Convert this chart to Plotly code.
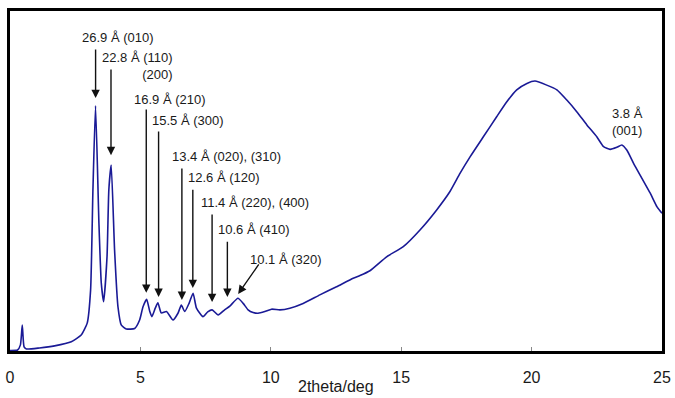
import numpy as np
import plotly.graph_objects as go

# Powder XRD pattern: 2theta (deg) vs intensity (arb. units)
two_theta = [
    0.00, 0.29, 0.40, 0.47, 0.54, 0.63, 1.13, 1.71, 2.35, 2.73,
    2.96, 3.09, 3.18, 3.28, 3.41, 3.50, 3.59, 3.72, 3.79, 3.88,
    4.01, 4.14, 4.27, 4.46, 4.78, 4.97, 5.10, 5.24, 5.36, 5.44,
    5.57, 5.67, 5.80, 6.00, 6.25, 6.44, 6.57, 6.70, 6.87, 7.02,
    7.15, 7.40, 7.58, 7.75, 7.98, 8.23, 8.43, 8.74, 8.94, 9.13,
    9.32, 9.51, 9.77, 10.03, 10.35, 10.73, 11.24, 11.88, 12.52, 13.16,
    13.42, 13.80, 14.44, 15.08, 15.72, 16.36, 16.87, 17.26, 17.64, 18.15,
    18.66, 19.05, 19.43, 19.82, 20.13, 20.58, 20.97, 21.35, 21.73, 22.12,
    22.50, 22.76, 23.01, 23.27, 23.46, 23.65, 23.91, 24.23, 24.55, 24.81,
    25.00,
]
intensity = [
    0.15, 0.3, 1.8, 7.6, 1.2, 0.6, 0.9, 1.5, 2.7, 4.7,
    8.2, 17.9, 47.4, 72.1, 37.6, 20.0, 14.5, 27.7, 47.4, 54.7,
    29.7, 13.0, 7.6, 6.5, 6.6, 9.1, 13.0, 15.2, 11.6, 10.1,
    12.6, 14.2, 11.2, 11.6, 9.1, 11.1, 13.5, 11.6, 14.1, 17.0,
    12.6, 10.1, 11.5, 12.1, 10.6, 12.1, 13.2, 15.5, 14.0, 12.1,
    11.3, 11.1, 11.6, 12.3, 12.1, 12.6, 14.0, 16.5, 18.9, 21.4,
    22.2, 23.6, 27.7, 30.7, 35.6, 41.5, 46.9, 52.3, 57.1, 63.0,
    68.9, 73.3, 76.8, 78.7, 79.4, 78.2, 76.8, 73.8, 70.4, 66.5,
    63.0, 60.1, 59.3, 59.9, 60.6, 59.1, 55.2, 50.8, 46.4, 42.4,
    40.5,
]

# Indexed reflections: d-spacing (Å) and Miller indices
d_spacing = [26.9, 22.8, 16.9, 15.5, 13.4, 12.6, 11.4, 10.6, 10.1]
hkl = ["(010)", "(110)<br>(200)", "(210)", "(300)", "(020), (310)",
       "(120)", "(220), (400)", "(410)", "(320)"]
# arrow tip / tail heights and label centre for each reflection
tip_int = [74.4, 57.6, 17.1, 15.9, 15.0, 18.5, 14.4, 15.9, 16.8]
tail_int = [89.1, 83.2, 71.5, 65.0, 54.1, 47.9, 40.6, 32.6, 25.9]
label_x = [4.13, 6.32, 6.12, 6.81, 8.29, 8.22, 9.41, 9.37, 10.57]
label_y = [92.1, 83.8, 74.1, 67.9, 57.1, 50.9, 43.6, 35.6, 26.8]

# Amorphous-halo reflection
d_001 = 3.8
label_001 = (23.69, 67.5)

WAVELENGTH = 1.5406  # Cu K-alpha, Å


def bragg_two_theta(d):
    return float(np.degrees(2 * np.arcsin(WAVELENGTH / (2 * d))))


FONT = "Liberation Sans, Arial, sans-serif"
TXT = "#1a1a1a"

fig = go.Figure()
fig.add_trace(go.Scatter(
    x=two_theta, y=intensity, mode="lines",
    line=dict(color="#1a1a96", width=1.6, shape="spline", smoothing=0.5),
    hoverinfo="skip", showlegend=False,
))

annotations = []
for i, d in enumerate(d_spacing):
    tt = bragg_two_theta(d)
    if i == len(d_spacing) - 1:
        # last label sits to the right, arrow comes in diagonally
        tail_x = tt + 0.83
    else:
        tail_x = tt
    annotations.append(dict(
        x=tt, y=tip_int[i], ax=tail_x, ay=tail_int[i],
        xref="x", yref="y", axref="x", ayref="y",
        text="", showarrow=True, arrowhead=2, arrowsize=1.2,
        arrowwidth=1.4, arrowcolor="#111111", standoff=0,
    ))
    if i == 1:
        annotations.append(dict(
            x=label_x[i], y=label_y[i], xref="x", yref="y",
            text=f"{d} Å {hkl[i]}", showarrow=False, align="right",
            xanchor="right", yanchor="middle",
            font=dict(family=FONT, size=13, color=TXT),
        ))
    else:
        annotations.append(dict(
            x=label_x[i], y=label_y[i], xref="x", yref="y",
            text=f"{d} Å {hkl[i]}", showarrow=False,
            xanchor="center", yanchor="middle",
            font=dict(family=FONT, size=13, color=TXT),
        ))

annotations.append(dict(
    x=label_001[0], y=label_001[1], xref="x", yref="y",
    text=f"{d_001} Å<br>(001)", showarrow=False, align="center",
    font=dict(family=FONT, size=13, color=TXT),
))

# x-axis title sits just under the tick labels, centred
annotations.append(dict(
    x=0.5, y=-0.105, xref="paper", yref="paper",
    text="2theta/deg", showarrow=False, yanchor="middle",
    font=dict(family=FONT, size=16, color=TXT),
))

fig.update_layout(
    width=675, height=398,
    margin=dict(l=10, r=13, t=11, b=47, autoexpand=False),
    paper_bgcolor="white", plot_bgcolor="white",
    annotations=annotations,
    xaxis=dict(
        range=[0, 25], tickvals=[0, 5, 10, 15, 20, 25],
        ticks="inside", ticklen=4, tickwidth=1, tickcolor="#888888",
        ticklabelstandoff=10, automargin=False,
        showline=True, linecolor="black", linewidth=2.5, mirror=True,
        showgrid=False, zeroline=False,
        tickfont=dict(family=FONT, size=16, color=TXT),
    ),
    yaxis=dict(
        range=[0, 100], showticklabels=False, ticks="",
        automargin=False,
        showline=True, linecolor="black", linewidth=2.5, mirror=True,
        showgrid=False, zeroline=False,
    ),
)

fig.write_html("out.html")
